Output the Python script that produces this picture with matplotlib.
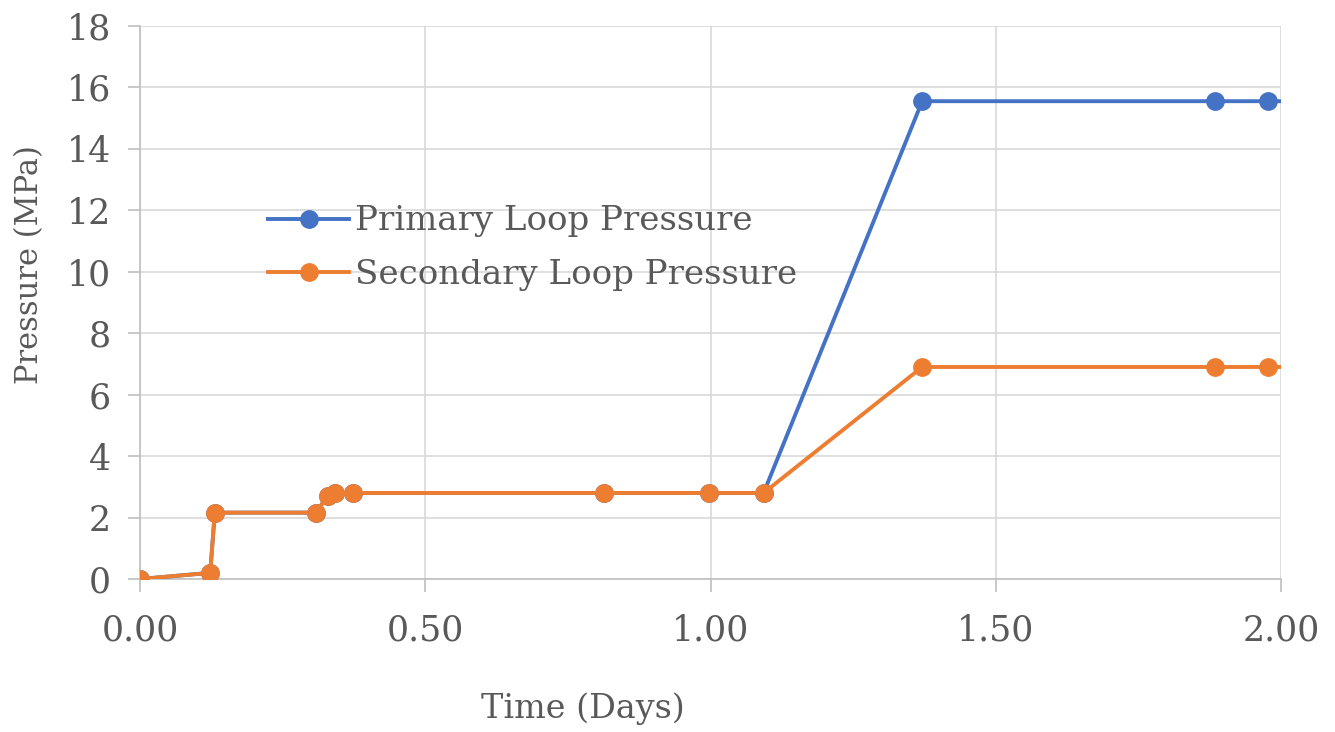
import matplotlib
matplotlib.use('Agg')
import matplotlib.pyplot as plt

# time (days) and loop pressures (MPa)
time_days = [0.0, 0.123, 0.131, 0.308, 0.329, 0.342, 0.373, 0.814, 0.998, 1.093, 1.371, 1.884, 1.977, 2.10]
primary_mpa = [0.0, 0.2, 2.16, 2.16, 2.70, 2.81, 2.80, 2.80, 2.80, 2.80, 15.55, 15.55, 15.55, 15.55]
secondary_mpa = [0.0, 0.2, 2.16, 2.16, 2.70, 2.81, 2.80, 2.80, 2.80, 2.80, 6.90, 6.90, 6.90, 6.90]

x_ticks = [0.0, 0.5, 1.0, 1.5, 2.0]
x_tick_labels = ['0.00', '0.50', '1.00', '1.50', '2.00']
y_ticks = list(range(0, 19, 2))

blue = '#4472C4'
orange = '#ED7D31'
text_grey = '#595959'
grid_grey = '#D9D9D9'

plt.rcParams['font.family'] = ['DejaVu Serif']

fig = plt.figure(figsize=(13.35, 7.32), dpi=100)
ax = fig.add_axes([0.1049, 0.209, 0.8547, 0.7556])

ax.plot(time_days, primary_mpa, color=blue, lw=2.8, marker='o', ms=12.5,
        label='Primary Loop Pressure', zorder=3)
ax.plot(time_days, secondary_mpa, color=orange, lw=2.8, marker='o', ms=12.5,
        label='Secondary Loop Pressure', zorder=4)

ax.set_xlim(0, 2)
ax.set_ylim(0, 18)
ax.set_xticks(x_ticks)
ax.set_xticklabels(x_tick_labels)
ax.set_yticks(y_ticks)

ax.grid(True, color=grid_grey, lw=1.2)
ax.set_axisbelow(True)
for side in ['top', 'right']:
    ax.spines[side].set_visible(False)
for side in ['left', 'bottom']:
    ax.spines[side].set_color('#BFBFBF')
    ax.spines[side].set_linewidth(1.2)

ax.tick_params(axis='both', colors='#BFBFBF', length=9, width=1.2,
               labelcolor=text_grey, labelsize=25)
ax.tick_params(axis='y', pad=12)
ax.tick_params(axis='x', pad=16)

ax.set_xlabel('Time (Days)', fontsize=24, color=text_grey)
ax.xaxis.set_label_coords(0.388, -0.205)
ax.set_ylabel('Pressure (MPa)', fontsize=22, color=text_grey)
ax.yaxis.set_label_coords(-0.083, 0.568)

leg = ax.legend(loc='upper left', bbox_to_anchor=(0.1, 0.70), frameon=False,
                fontsize=24.5, handlelength=2.4, handletextpad=0.15,
                labelspacing=0.62, borderaxespad=0)
for t in leg.get_texts():
    t.set_color(text_grey)

fig.savefig('out.png', dpi=100)
